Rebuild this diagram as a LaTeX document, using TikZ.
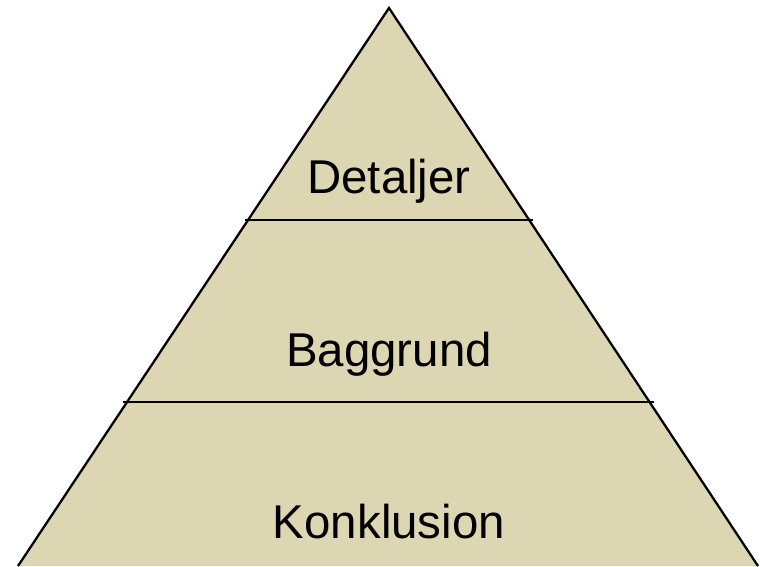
\documentclass[tikz,border=0pt]{standalone}
\usepackage{fontspec}
\setmainfont{Liberation Sans}
\usepackage{xcolor}
\usetikzlibrary{calc}
\usetikzlibrary{positioning}
\definecolor{sand}{RGB}{221,214,178}
\tikzset{level/.style={font=\fontsize{27}{31}\selectfont,anchor=base,inner sep=0pt},
         divider/.style={line width=1.3pt}}

\begin{document}
\begin{tikzpicture}[x=0.02cm,y=-0.02cm]
                \useasboundingbox (0,0) rectangle (765,566);
                \coordinate (top) at (389,8);
                \coordinate (bl) at (18,566);
                \coordinate (br) at (758,566);
                \fill[sand] (top) -- (bl) -- (br) -- cycle;
                \draw[line width=1.3pt] (bl) -- (top) -- (br);
                % dividing lines
                \coordinate (d1l) at (245,220);
                \coordinate (d1r) at (533,220);
                \coordinate (d2l) at (123,402);
                \coordinate (d2r) at (654,402);
                \draw[divider] (d1l) -- (d1r);
                \draw[divider] (d2l) -- (d2r);
                \node[level] (det) at (389,193) {Detaljer};
                \node[level] (bag) at (389,366) {Baggrund};
                \node[level] (kon) at (389,538) {Konklusion};
            \end{tikzpicture}
\end{document}
